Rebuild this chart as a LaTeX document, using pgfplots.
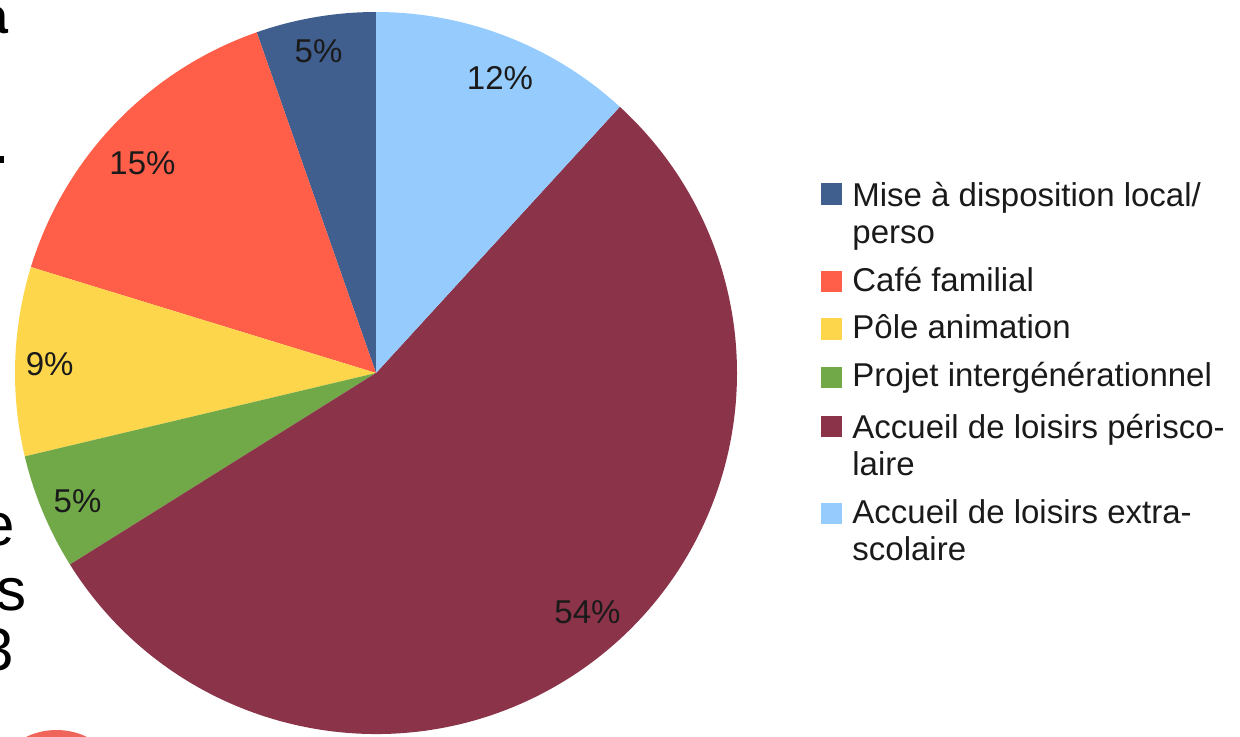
\documentclass[border=0pt]{standalone}
\usepackage{pgfplots}
\pgfplotsset{compat=1.18}
\usepackage{pgfplotstable}
\usepackage{fontspec}
\setmainfont{Liberation Sans}
\definecolor{cA}{HTML}{405F8F}
\definecolor{cB}{HTML}{FF5E49}
\definecolor{cC}{HTML}{FDD64B}
\definecolor{cD}{HTML}{71A948}
\definecolor{cE}{HTML}{8B3349}
\definecolor{cF}{HTML}{96CBFE}
\definecolor{salmon}{HTML}{F0655A}
\definecolor{txt}{HTML}{1A1A1A}
\pgfplotstableread{
idx pct
0 5.36
1 14.90
2 8.45
3 5.19
4 54.30
5 11.80
}\piedata
\pgfplotstableread{
x y lab
318.5 684.5 5\%
500 657.7 12\%
142.5 572.7 15\%
49.7 372 9\%
77.5 235.2 5\%
587.5 124.3 54\%
}\labdata
\newcommand\lf{\fontsize{16.5}{19.8}\selectfont}
\begin{document}
\begin{tikzpicture}
\useasboundingbox (0,0) rectangle (620pt,368pt);
\clip (0,0) rectangle (620pt,368pt);
\pgfmathsetmacro{\aZ}{90}
\pgfplotstablegetelem{0}{pct}\of\piedata \pgfmathsetmacro{\aA}{\aZ+3.6*\pgfplotsretval}
\pgfplotstablegetelem{1}{pct}\of\piedata \pgfmathsetmacro{\aB}{\aA+3.6*\pgfplotsretval}
\pgfplotstablegetelem{2}{pct}\of\piedata \pgfmathsetmacro{\aC}{\aB+3.6*\pgfplotsretval}
\pgfplotstablegetelem{3}{pct}\of\piedata \pgfmathsetmacro{\aD}{\aC+3.6*\pgfplotsretval}
\pgfplotstablegetelem{4}{pct}\of\piedata \pgfmathsetmacro{\aE}{\aD+3.6*\pgfplotsretval}
\pgfmathsetmacro{\aF}{450}
\begin{axis}[
  scale only axis, width=620pt, height=368pt,
  xmin=0, xmax=1240, ymin=0, ymax=736,
  hide axis, clip=false,
]
\fill[cA] (axis cs:376,363) -- ++(\aZ:180.5pt) arc[start angle=\aZ, end angle=\aA, radius=180.5pt] -- cycle;
\fill[cB] (axis cs:376,363) -- ++(\aA:180.5pt) arc[start angle=\aA, end angle=\aB, radius=180.5pt] -- cycle;
\fill[cC] (axis cs:376,363) -- ++(\aB:180.5pt) arc[start angle=\aB, end angle=\aC, radius=180.5pt] -- cycle;
\fill[cD] (axis cs:376,363) -- ++(\aC:180.5pt) arc[start angle=\aC, end angle=\aD, radius=180.5pt] -- cycle;
\fill[cE] (axis cs:376,363) -- ++(\aD:180.5pt) arc[start angle=\aD, end angle=\aE, radius=180.5pt] -- cycle;
\fill[cF] (axis cs:376,363) -- ++(\aE:180.5pt) arc[start angle=\aE, end angle=\aF, radius=180.5pt] -- cycle;
\addplot[draw=none, mark=none, nodes near coords, point meta=explicit symbolic,
  nodes near coords style={anchor=center, font=\lf, text=txt, inner sep=0pt}]
  table[x=x, y=y, meta=lab] {\labdata};
% legend
\fill[cA] (axis cs:821,531) rectangle (axis cs:842,553);
\fill[cB] (axis cs:821,444) rectangle (axis cs:842,465);
\fill[cC] (axis cs:821,396) rectangle (axis cs:842,418);
\fill[cD] (axis cs:821,348) rectangle (axis cs:842,369);
\fill[cE] (axis cs:821,299) rectangle (axis cs:842,320);
\fill[cF] (axis cs:821,212) rectangle (axis cs:842,233);
\begin{scope}[every node/.style={anchor=base west, inner sep=0pt, font=\lf, text=txt}]
\node at (axis cs:852,529.3) {Mise à disposition local/};
\node at (axis cs:852,493) {perso};
\node at (axis cs:852,444.3) {Café familial};
\node at (axis cs:852,397.7) {Pôle animation};
\node at (axis cs:852,349.3) {Projet intergénérationnel};
\node at (axis cs:852,297.7) {Accueil de loisirs périsco-};
\node at (axis cs:852,261) {laire};
\node at (axis cs:852,212.7) {Accueil de loisirs extra-};
\node at (axis cs:852,176) {scolaire};
\end{scope}
% cropped fragments of the surrounding slide
\node[anchor=base east, inner sep=0pt, font=\fontsize{25}{25}\bfseries\selectfont] at (axis cs:9,703) {a};
\fill[black] (axis cs:0,573) rectangle (axis cs:4,580);
\node[anchor=base east, inner sep=0pt, font=\fontsize{30}{30}\selectfont] at (axis cs:15,191) {e};
\node[anchor=base east, inner sep=0pt, font=\fontsize{30}{30}\selectfont] at (axis cs:27,126) {s};
\node[anchor=base east, inner sep=0pt, font=\fontsize{30}{30}\selectfont] at (axis cs:14,66) {3};
\fill[salmon] (axis cs:56.5,-64) circle[radius=35pt];
\end{axis}
\end{tikzpicture}
\end{document}
